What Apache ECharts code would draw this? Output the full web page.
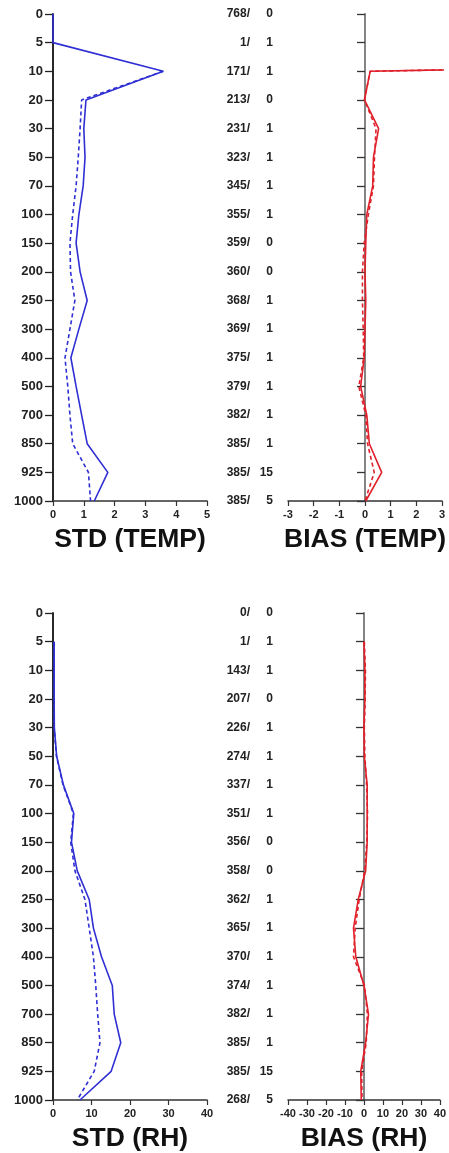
<!DOCTYPE html>
<html>
<head>
<meta charset="utf-8">
<script src="https://cdn.jsdelivr.net/npm/echarts@6/dist/echarts.min.js"></script>
<style>
html,body{margin:0;padding:0;background:#fff;}
#chart{width:449px;height:1153px;}
</style>
</head>
<body>
<div id="chart"></div>
<script>
const levels = ['0','5','10','20','30','50','70','100','150','200','250','300','400','500','700','850','925','1000'];

const tempCountA = [768, 1, 171, 213, 231, 323, 345, 355, 359, 360, 368, 369, 375, 379, 382, 385, 385, 385];
const tempCountB = [0, 1, 1, 0, 1, 1, 1, 1, 0, 0, 1, 1, 1, 1, 1, 1, 15, 5];
const rhCountA = [0, 1, 143, 207, 226, 274, 337, 351, 356, 358, 362, 365, 370, 374, 382, 385, 385, 268];
const rhCountB = [0, 1, 1, 0, 1, 1, 1, 1, 0, 0, 1, 1, 1, 1, 1, 1, 15, 5];

const stdTempSolid  = [0, 0, 3.58, 1.07, 1.0, 1.04, 0.98, 0.84, 0.75, 0.88, 1.11, 0.84, 0.58, 0.75, 0.93, 1.11, 1.78, 1.34];
const stdTempDashed = [null, null, 3.58, 0.93, 0.88, 0.82, 0.75, 0.64, 0.55, 0.57, 0.71, 0.55, 0.39, 0.48, 0.55, 0.64, 1.15, 1.22];

const biasTempSolid  = [null, 60, 0.2, -0.02, 0.53, 0.33, 0.3, 0.07, 0.03, 0.0, 0.03, 0.0, -0.03, -0.17, 0.07, 0.17, 0.65, 0.03];
const biasTempDashed = [null, 60, 0.2, -0.02, 0.43, 0.37, 0.33, 0.13, -0.03, -0.1, -0.1, -0.07, -0.05, -0.24, 0.03, 0.1, 0.36, 0.0];

const stdRhSolid  = [null, 0.3, 0.3, 0.3, 0.35, 0.95, 2.7, 5.4, 4.8, 6.3, 9.4, 10.5, 12.6, 15.4, 15.9, 17.6, 15.1, 7.0];
const stdRhDashed = [null, 0.3, 0.3, 0.3, 0.3, 0.9, 2.6, 5.3, 4.6, 5.7, 8.3, 9.4, 10.5, 11.1, 11.6, 12.2, 10.7, 6.3];

const biasRhSolid  = [null, 0.0, 0.5, 0.5, 0.0, 0.2, 1.7, 1.7, 1.7, 0.9, -3.0, -5.5, -4.3, 0.0, 2.4, 0.9, -1.7, -1.4];
const biasRhDashed = [null, 0.2, 0.8, 0.6, 0.2, 0.5, 1.4, 1.9, 1.5, 0.4, -2.5, -4.6, -5.5, 0.3, 1.8, 1.2, -1.2, -1.0];

const BLUE = '#2f2fd4';
const RED = '#e0202a';
const FONT = '"Liberation Sans", Arial, Helvetica, sans-serif';

const chart = echarts.init(document.getElementById('chart'), null, {renderer: 'canvas'});

const grids = [
  {left: 53, top: 14, width: 154, height: 487},
  {left: 288, top: 14, width: 154, height: 487},
  {left: 53, top: 613, width: 154, height: 487},
  {left: 288, top: 613, width: 154, height: 487}
];

function xAxis(gi, min, max, interval, name) {
  return {
    type: 'value', gridIndex: gi, min: min, max: max, interval: interval,
    position: 'bottom',
    splitLine: {show: false},
    axisLine: {show: true, onZero: false, lineStyle: {color: '#333', width: 1.5}},
    axisTick: {show: true, inside: false, length: 5, lineStyle: {color: '#333', width: 1.2}},
    axisLabel: {show: true, margin: 8, fontSize: 11, fontWeight: 'bold', color: '#222', fontFamily: FONT},
    name: name, nameLocation: 'middle', nameGap: 25,
    nameTextStyle: {fontSize: 26.5, fontWeight: 'bold', color: '#111', fontFamily: FONT}
  };
}

function yAxisLeft(gi) {
  return {
    type: 'category', gridIndex: gi, data: levels, inverse: true, boundaryGap: false,
    axisLine: {show: true, onZero: false, lineStyle: {color: '#111', width: 1.8}},
    axisTick: {show: true, inside: false, length: 8, alignWithLabel: true, lineStyle: {color: '#222', width: 1.3}},
    axisLabel: {show: true, margin: 10, fontSize: 13, fontWeight: 'bold', color: '#222', fontFamily: FONT, interval: 0},
    splitLine: {show: false}
  };
}

function yAxisRight(gi, cA, cB) {
  return {
    type: 'category', gridIndex: gi, data: levels, inverse: true, boundaryGap: false,
    axisLine: {show: true, onZero: true, lineStyle: {color: '#777', width: 1.8}},
    axisTick: {show: true, inside: false, length: 8, lineStyle: {color: '#333', width: 1.3}},
    axisLabel: {
      show: true, margin: 15, interval: 0,
      formatter: function (v, i) { return '{a|' + cA[i] + '/}{b|' + cB[i] + '}'; },
      rich: {
        a: {width: 34, align: 'right', fontSize: 12, fontWeight: 'bold', color: '#222', fontFamily: FONT},
        b: {width: 23, align: 'right', fontSize: 12, fontWeight: 'bold', color: '#222', fontFamily: FONT}
      }
    },
    splitLine: {show: false}
  };
}

function line(gi, data, color, dashed) {
  return {
    type: 'line', xAxisIndex: gi, yAxisIndex: gi, data: data,
    showSymbol: false, symbol: 'none', clip: true, connectNulls: false,
    lineStyle: {color: color, width: 1.6, type: dashed ? [4, 3] : 'solid'},
    itemStyle: {color: color},
    silent: true
  };
}

chart.setOption({
  animation: false,
  backgroundColor: '#fff',
  grid: grids,
  xAxis: [
    xAxis(0, 0, 5, 1, 'STD (TEMP)'),
    xAxis(1, -3, 3, 1, 'BIAS (TEMP)'),
    xAxis(2, 0, 40, 10, 'STD (RH)'),
    xAxis(3, -40, 40, 10, 'BIAS (RH)')
  ],
  yAxis: [
    yAxisLeft(0),
    yAxisRight(1, tempCountA, tempCountB),
    yAxisLeft(2),
    yAxisRight(3, rhCountA, rhCountB)
  ],
  series: [
    line(0, stdTempDashed, BLUE, true),
    line(0, stdTempSolid, BLUE, false),
    line(1, biasTempDashed, RED, true),
    line(1, biasTempSolid, RED, false),
    line(2, stdRhDashed, BLUE, true),
    line(2, stdRhSolid, BLUE, false),
    line(3, biasRhDashed, RED, true),
    line(3, biasRhSolid, RED, false)
  ]
});
</script>
</body>
</html>
